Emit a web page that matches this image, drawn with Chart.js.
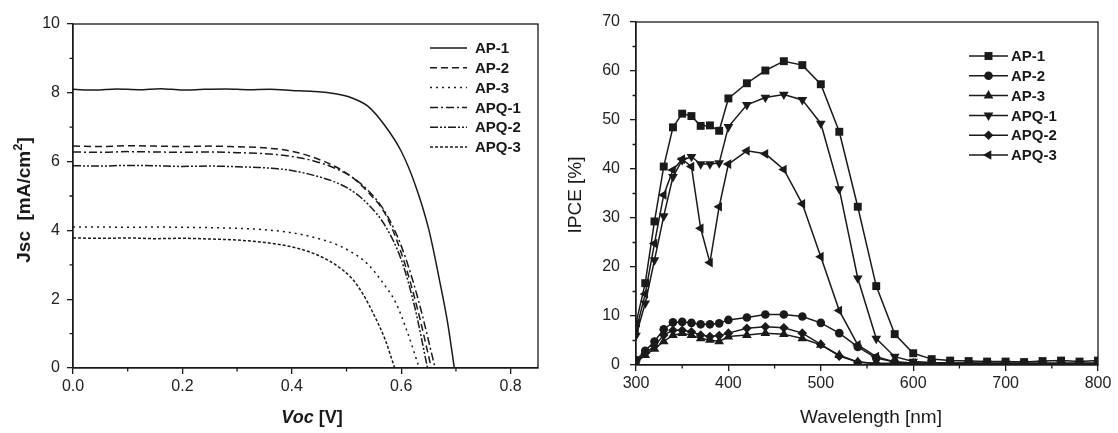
<!DOCTYPE html>
<html lang="en">
<head>
<meta charset="UTF-8">
<title>J-V curves and IPCE</title>
<script src="https://cdn.jsdelivr.net/npm/chart.js@4.4.0/dist/chart.umd.min.js"></script>
<style>
  body { margin: 0; background: #fff; }
  .box { position: absolute; top: 0; width: 559px; height: 433px; }
</style>
</head>
<body>
<div class="box" style="left:0"><canvas id="jv" width="559" height="433"></canvas></div>
<div class="box" style="left:559px"><canvas id="ipce" width="559" height="433"></canvas></div>

<script>
// ---- left panel: J-V curves (V, mA/cm2) ----
const jvNames = ['AP-1', 'AP-2', 'AP-3', 'APQ-1', 'APQ-2', 'APQ-3'];
const vAP1  = [0, 0.04, 0.08, 0.12, 0.16, 0.2, 0.24, 0.28, 0.32, 0.36, 0.4, 0.44, 0.48, 0.51, 0.54, 0.57, 0.6, 0.625, 0.65, 0.67, 0.685, 0.697];
const jAP1  = [8.10, 8.08, 8.11, 8.09, 8.12, 8.08, 8.10, 8.11, 8.09, 8.10, 8.07, 8.04, 7.97, 7.85, 7.60, 7.05, 6.30, 5.35, 4.05, 2.55, 1.30, 0];
const vAP2  = [0, 0.05, 0.1, 0.15, 0.2, 0.25, 0.3, 0.35, 0.4, 0.44, 0.48, 0.51, 0.54, 0.57, 0.6, 0.63, 0.655];
const jAP2  = [6.45, 6.44, 6.46, 6.45, 6.44, 6.45, 6.43, 6.40, 6.30, 6.12, 5.85, 5.55, 5.10, 4.50, 3.35, 1.70, 0];
const vAP3  = [0, 0.05, 0.1, 0.15, 0.2, 0.25, 0.3, 0.35, 0.4, 0.44, 0.48, 0.51, 0.54, 0.57, 0.59, 0.61, 0.633];
const jAP3  = [4.10, 4.10, 4.09, 4.10, 4.09, 4.08, 4.06, 4.02, 3.93, 3.80, 3.60, 3.36, 3.00, 2.40, 1.90, 1.10, 0];
const vAPQ1 = [0, 0.05, 0.1, 0.15, 0.2, 0.25, 0.3, 0.35, 0.4, 0.44, 0.48, 0.51, 0.54, 0.57, 0.6, 0.63, 0.662];
const jAPQ1 = [6.28, 6.27, 6.29, 6.28, 6.27, 6.28, 6.26, 6.23, 6.15, 6.02, 5.80, 5.55, 5.15, 4.55, 3.55, 2.05, 0];
const vAPQ2 = [0, 0.05, 0.1, 0.15, 0.2, 0.25, 0.3, 0.35, 0.4, 0.44, 0.48, 0.51, 0.54, 0.57, 0.6, 0.625, 0.648];
const jAPQ2 = [5.88, 5.87, 5.89, 5.88, 5.86, 5.87, 5.85, 5.82, 5.74, 5.60, 5.40, 5.15, 4.75, 4.15, 3.15, 1.75, 0];
const vAPQ3 = [0, 0.05, 0.1, 0.15, 0.2, 0.25, 0.3, 0.35, 0.4, 0.44, 0.48, 0.51, 0.53, 0.55, 0.57, 0.588];
const jAPQ3 = [3.78, 3.77, 3.78, 3.76, 3.77, 3.75, 3.72, 3.65, 3.52, 3.33, 3.00, 2.60, 2.15, 1.55, 0.85, 0];
const jvXTicks = [0, 0.2, 0.4, 0.6, 0.8];
const jvXMinor = [0.1, 0.3, 0.5, 0.7];
const jvYTicks = [0, 2, 4, 6, 8, 10];
const jvYMinor = [1, 3, 5, 7, 9];

// ---- right panel: IPCE (%) vs wavelength (nm) ----
const ipceNames = ['AP-1', 'AP-2', 'AP-3', 'APQ-1', 'APQ-2', 'APQ-3'];
const wavelength = [300, 310, 320, 330, 340, 350, 360, 370, 380, 390, 400, 420, 440, 460, 480, 500, 520, 540, 560, 580, 600,
                    620, 640, 660, 680, 700, 720, 740, 760, 780, 800];
const ipceAP1  = [8.5, 16.7, 29.3, 40.5, 48.5, 51.3, 50.8, 48.8, 48.9, 47.8, 54.4, 57.5, 60.1, 62.0, 61.2, 57.3, 47.6, 32.3, 16.1, 6.3, 2.4,
                  1.2, 0.9, 0.8, 0.7, 0.7, 0.6, 0.8, 0.9, 0.7, 0.9];
const ipceAP2  = [1.0, 2.9, 4.8, 7.3, 8.7, 8.8, 8.6, 8.3, 8.3, 8.5, 9.2, 9.7, 10.3, 10.3, 9.9, 8.6, 6.5, 3.7, 1.4, 0.6, 0.4,
                  0.3, 0.3, 0.3, 0.3, 0.3, 0.3, 0.3, 0.3, 0.3, 0.3];
const ipceAP3  = [0.5, 2.0, 3.3, 4.8, 6.1, 6.5, 6.1, 5.4, 5.1, 4.8, 5.8, 6.1, 6.5, 6.3, 5.4, 4.1, 2.0, 0.6, 0.3, 0.3, 0.3,
                  0.3, 0.3, 0.3, 0.3, 0.3, 0.3, 0.3, 0.3, 0.3, 0.3];
const ipceAPQ1 = [6.0, 12.6, 21.4, 30.4, 38.4, 41.8, 42.5, 41.0, 41.0, 41.2, 48.6, 53.1, 54.6, 55.2, 54.1, 49.3, 35.9, 17.7, 5.4, 1.7, 0.7,
                  0.5, 0.4, 0.4, 0.3, 0.3, 0.3, 0.3, 0.3, 0.3, 0.3];
const ipceAPQ2 = [0.8, 2.4, 3.9, 6.1, 7.1, 7.1, 6.8, 6.1, 5.8, 6.0, 6.5, 7.5, 7.8, 7.6, 6.5, 4.2, 1.8, 0.6, 0.3, 0.3, 0.3,
                  0.3, 0.3, 0.3, 0.3, 0.3, 0.3, 0.3, 0.3, 0.3, 0.3];
const ipceAPQ3 = [7.0, 14.5, 24.8, 34.7, 39.8, 42.0, 40.5, 27.9, 20.9, 32.3, 41.0, 43.7, 43.1, 39.9, 32.9, 22.1, 11.1, 4.1, 1.7, 0.6, 0.4,
                  0.3, 0.3, 0.3, 0.3, 0.3, 0.3, 0.3, 0.3, 0.3, 0.3];
const ipceXTicks = [300, 400, 500, 600, 700, 800];
const ipceXMinor = [350, 450, 550, 650, 750];
const ipceYTicks = [0, 10, 20, 30, 40, 50, 60, 70];
const ipceYMinor = [5, 15, 25, 35, 45, 55, 65];

const FONT = "'Liberation Sans', Arial, sans-serif";
const INK = '#1a1a1a';

// box, minor ticks, axis titles and legend
const extras = {
  id: 'extras',
  afterDraw(chart, args, o) {
    const ctx = chart.ctx, a = chart.chartArea;
    const xs = chart.scales.x, ys = chart.scales.y;
    ctx.save();
    ctx.strokeStyle = INK;
    ctx.lineWidth = 1.3;
    ctx.strokeRect(a.left, a.top, a.right - a.left, a.bottom - a.top);

    ctx.beginPath();
    o.minorX.forEach(v => {
      const p = xs.getPixelForValue(v);
      ctx.moveTo(p, a.bottom); ctx.lineTo(p, a.bottom + 3.5);
    });
    o.minorY.forEach(v => {
      const p = ys.getPixelForValue(v);
      ctx.moveTo(a.left, p); ctx.lineTo(a.left - 3.5, p);
    });
    ctx.stroke();

    // axis titles, drawn in parts so styles can be mixed
    ctx.fillStyle = INK;
    ctx.textBaseline = 'middle';
    ctx.textAlign = 'left';
    o.titles.forEach(t => {
      let total = 0;
      t.parts.forEach(p => { ctx.font = p.font; total += ctx.measureText(p.text).width; });
      ctx.save();
      ctx.translate(t.x, t.y);
      ctx.rotate(t.rot || 0);
      let cx = -total / 2;
      t.parts.forEach(p => {
        ctx.font = p.font;
        ctx.fillText(p.text, cx, p.dy || 0);
        cx += ctx.measureText(p.text).width;
      });
      ctx.restore();
    });

    // legend
    const lg = o.legend;
    chart.data.datasets.forEach((ds, i) => {
      const y = lg.y + i * lg.gap;
      ctx.beginPath();
      ctx.setLineDash(ds.borderDash || []);
      ctx.lineWidth = ds.borderWidth;
      ctx.moveTo(lg.x0, y); ctx.lineTo(lg.x1, y);
      ctx.stroke();
      ctx.setLineDash([]);
      if (ds.pointStyle) {
        ctx.fillStyle = INK;
        Chart.helpers.drawPoint(ctx, {
          pointStyle: ds.pointStyle, rotation: ds.rotation || 0,
          radius: ds.pointRadius, borderWidth: 0
        }, (lg.x0 + lg.x1) / 2, y);
      }
      ctx.fillStyle = INK;
      ctx.font = 'bold 15px ' + FONT;
      ctx.fillText(ds.label, lg.tx, y + 1);
    });
    ctx.restore();
  }
};

function axisX(min, max, ticks, height, fmt) {
  return {
    type: 'linear', min: min, max: max,
    afterBuildTicks: s => { s.ticks = ticks.map(v => ({ value: v })); },
    afterFit: s => { s.height = height; },
    grid: { drawOnChartArea: false, color: INK, lineWidth: 1.3, tickLength: 6 },
    border: { color: INK, width: 1.3 },
    ticks: { callback: fmt, color: '#222', padding: 3, maxRotation: 0, font: { family: FONT, size: 16 } }
  };
}
function axisY(min, max, ticks, width, pad) {
  return {
    type: 'linear', min: min, max: max,
    afterBuildTicks: s => { s.ticks = ticks.map(v => ({ value: v })); },
    afterFit: s => { s.width = width; },
    grid: { drawOnChartArea: false, color: INK, lineWidth: 1.3, tickLength: 6 },
    border: { color: INK, width: 1.3 },
    ticks: { color: '#222', padding: pad, font: { family: FONT, size: 16 } }
  };
}

// left chart
const jvV = [vAP1, vAP2, vAP3, vAPQ1, vAPQ2, vAPQ3];
const jvJ = [jAP1, jAP2, jAP3, jAPQ1, jAPQ2, jAPQ3];
const jvDash = [[], [7, 4], [2, 4], [8, 3, 2, 3], [8, 2, 2, 2, 2, 2], [3, 2]];

new Chart(document.getElementById('jv'), {
  type: 'line',
  data: {
    datasets: jvNames.map((n, i) => ({
      label: n,
      data: jvV[i].map((v, k) => ({ x: v, y: jvJ[i][k] })),
      borderColor: INK, borderWidth: 1.5, borderDash: jvDash[i],
      pointRadius: 0, cubicInterpolationMode: 'monotone', fill: false
    }))
  },
  options: {
    responsive: false, animation: false,
    layout: { padding: { top: 24, right: 21, left: 0, bottom: 0 } },
    plugins: {
      legend: { display: false }, tooltip: { enabled: false },
      extras: {
        minorX: jvXMinor, minorY: jvYMinor,
        titles: [
          { x: 25, y: 200, rot: -Math.PI / 2, parts: [
            { text: 'Jsc  [mA/cm', font: 'bold 19px ' + FONT },
            { text: '2', font: 'bold 13px ' + FONT, dy: -7 },
            { text: ']', font: 'bold 19px ' + FONT }] },
          { x: 312, y: 418, parts: [
            { text: 'Voc', font: 'italic bold 18px ' + FONT },
            { text: ' [V]', font: 'bold 18px ' + FONT }] }
        ],
        legend: { x0: 430, x1: 467, tx: 475, y: 48, gap: 19.8 }
      }
    },
    scales: {
      x: axisX(0, 0.85, jvXTicks, 65, v => v.toFixed(1)),
      y: axisY(0, 10, jvYTicks, 73, 7)
    }
  },
  plugins: [extras]
});

// right chart
const ipceVals = [ipceAP1, ipceAP2, ipceAP3, ipceAPQ1, ipceAPQ2, ipceAPQ3];
const ipceStyle = ['rect', 'circle', 'triangle', 'triangle', 'rectRot', 'triangle'];
const ipceRot = [0, 0, 0, 180, 0, -90];
const ipceSize = [5.6, 4.3, 5.6, 5.6, 4.8, 5.6];

new Chart(document.getElementById('ipce'), {
  type: 'line',
  data: {
    datasets: ipceNames.map((n, i) => ({
      label: n,
      data: wavelength.map((w, k) => ({ x: w, y: ipceVals[i][k] })),
      borderColor: INK, borderWidth: 1.5, tension: 0,
      pointStyle: ipceStyle[i], rotation: ipceRot[i], pointRadius: ipceSize[i],
      pointBackgroundColor: INK, pointBorderColor: INK, pointBorderWidth: 0, fill: false
    }))
  },
  options: {
    responsive: false, animation: false,
    layout: { padding: { top: 22, right: 20, left: 0, bottom: 0 } },
    plugins: {
      legend: { display: false }, tooltip: { enabled: false },
      extras: {
        minorX: ipceXMinor, minorY: ipceYMinor,
        titles: [
          { x: 17, y: 195, rot: -Math.PI / 2, parts: [{ text: 'IPCE [%]', font: '19px ' + FONT }] },
          { x: 312, y: 418, parts: [{ text: 'Wavelength [nm]', font: '19px ' + FONT }] }
        ],
        legend: { x0: 410, x1: 449, tx: 452, y: 56, gap: 19.8 }
      }
    },
    scales: {
      x: axisX(300, 800, ipceXTicks, 68, v => String(v)),
      y: axisY(0, 70, ipceYTicks, 77, 10)
    }
  },
  plugins: [extras]
});
</script>
</body>
</html>
